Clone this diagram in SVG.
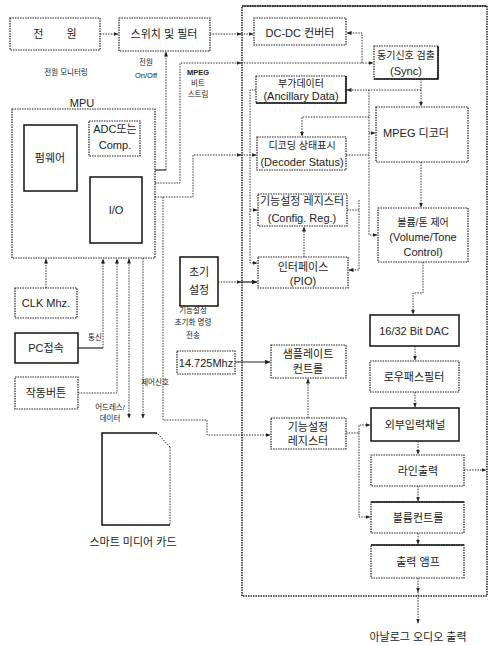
<svg xmlns="http://www.w3.org/2000/svg" width="492" height="645" viewBox="0 0 492 645">
<style>
.b{fill:#fff;stroke:#222;stroke-width:1.2;stroke-dasharray:1.5 1}
.s{fill:#fff;stroke:#111;stroke-width:1.5}
.e{fill:none;stroke:#111;stroke-width:1.5}
.c{fill:none;stroke:#333;stroke-width:1;stroke-dasharray:1.5 1.2}
.cs{fill:none;stroke:#222;stroke-width:1.2}
text{font-family:"Liberation Sans","Noto Sans CJK KR",sans-serif;fill:#222;text-anchor:middle;font-size:11px}
.k{font-size:10px}
.sm{font-size:7.5px}
</style>
<defs>
<marker id="a" viewBox="0 0 10 10" refX="9" refY="5" markerWidth="5" markerHeight="5" orient="auto-start-reverse"><path d="M0,1 L10,5 L0,9 z" fill="#222"/></marker>
</defs>
<g id="mainbox"><rect x="242" y="6" width="245" height="590" fill="none" stroke="#222" stroke-width="1.5" stroke-dasharray="1.5 1"/><line x1="242" y1="6" x2="487" y2="6" stroke="#111" stroke-width="1.2"/></g>
<g id="connectors">
<path class="c" d="M100,34 H118" marker-end="url(#a)"/>
<path class="c" d="M210,34 H241" marker-end="url(#a)"/>
<path class="c" d="M241,34 H253" marker-end="url(#a)"/>
<path class="c" d="M362,63 V33 H347" marker-end="url(#a)"/>
<path class="c" d="M155,183 H180 V63 H241" marker-end="url(#a)"/>
<path class="c" d="M241,63 H373" marker-end="url(#a)"/>
<path class="cs" d="M155,170 H166"/>
<path class="c" d="M166,170 V52" marker-end="url(#a)"/>
<path class="c" d="M155,197 H193 V155 H241" marker-end="url(#a)"/>
<path class="c" d="M241,155 H256" marker-end="url(#a)"/>
<path class="c" d="M256,90 H250 V263 H257" marker-end="url(#a)"/>
<path class="c" d="M250,210 H257" marker-end="url(#a)"/>
<path class="c" d="M421,79 V106" marker-end="url(#a)"/>
<path class="c" d="M421,90 H347" marker-end="url(#a)"/>
<path class="c" d="M369,90 V117 H302 V136" marker-end="url(#a)"/>
<path class="c" d="M369,117 V235 H377" marker-end="url(#a)"/>
<path class="c" d="M369,133 H375" marker-end="url(#a)"/>
<path class="c" d="M346,155 H369"/>
<path class="c" d="M347,210 H359"/>
<path class="c" d="M359,200 V270 H349" marker-end="url(#a)"/>
<path class="c" d="M304,257 V227" marker-end="url(#a)"/>
<path class="c" d="M218,282 H241" marker-end="url(#a)"/>
<path class="cs" d="M241,282 H257" marker-end="url(#a)"/>
<path class="c" d="M421,162 V207" marker-end="url(#a)"/>
<path class="c" d="M423,262 V293 H413 V314" marker-end="url(#a)"/>
<path class="c" d="M415,346 V360" marker-end="url(#a)"/>
<path class="c" d="M415,392 V407" marker-end="url(#a)"/>
<path class="c" d="M418,441 V454" marker-end="url(#a)"/>
<path class="c" d="M418,486 V501" marker-end="url(#a)"/>
<path class="c" d="M418,533 V544" marker-end="url(#a)"/>
<path class="c" d="M418,578 V592" marker-end="url(#a)"/>
<path class="c" d="M418,592 V623" marker-end="url(#a)"/>
<path class="c" d="M464,470 H486" marker-end="url(#a)"/>
<path class="c" d="M346,433 H359 V425 H370" marker-end="url(#a)"/>
<path class="c" d="M359,433 V517 H370" marker-end="url(#a)"/>
<path class="c" d="M308,418 V379" marker-end="url(#a)"/>
<path class="cs" d="M235,362 H270" marker-end="url(#a)"/>
<path class="c" d="M163,197 V420 H207 V435 H270" marker-end="url(#a)"/>
<path class="c" d="M46,288 V259" marker-end="url(#a)"/>
<path class="cs" d="M78,348 H103"/>
<path class="c" d="M103,348 V259" marker-end="url(#a)"/>
<path class="c" d="M78,393 H117 V259" marker-end="url(#a)"/>
<path class="c" d="M129,259 V418" marker-start="url(#a)" marker-end="url(#a)"/>
<path class="c" d="M143,258 V418" marker-end="url(#a)"/>
</g>
<g id="power"><rect class="b" x="10" y="18" width="90" height="32"/><text x="55" y="38" word-spacing="20">전 원</text></g>
<g id="switch"><rect class="b" x="119" y="18" width="91" height="33"/><text x="164" y="38">스위치 및 필터</text></g>
<g id="labels-top"><text class="sm" x="66" y="75">전원 모니터링</text><text class="sm" x="146" y="65">전원</text><text class="sm" x="146" y="78">On/Off</text>
<text class="sm" x="198" y="75" font-weight="bold">MPEG</text><text class="sm" x="198" y="86">비트</text><text class="sm" x="198" y="97">스트림</text></g>
<g id="mpu"><text x="82" y="107" font-size="15px">MPU</text><rect class="b" x="12" y="109" width="143" height="149"/></g>
<g id="firmware"><rect class="s" x="24" y="125" width="53" height="66"/><text x="50" y="162" font-size="12px">펌웨어</text></g>
<g id="adc"><rect class="b" x="89" y="121" width="51" height="35" stroke-width="1.6"/><text x="115" y="133">ADC또는</text><text x="115" y="149">Comp.</text></g>
<g id="io"><rect class="s" x="90" y="177" width="52" height="66"/><text x="116" y="214" font-size="12px">I/O</text></g>
<g id="clk"><rect class="b" x="15" y="288" width="62" height="30"/><text x="46" y="307">CLK Mhz.</text></g>
<g id="pc"><rect class="s" x="15" y="333" width="63" height="30"/><text x="46" y="352">PC접속</text><text class="sm" x="95" y="340">통신</text></g>
<g id="button"><rect class="b" x="15" y="377" width="63" height="32"/><text x="46" y="397">작동버튼</text></g>
<g id="card-labels"><text class="sm" x="110" y="410">어드레스/</text><text class="sm" x="110" y="421">데이터</text><text class="sm" x="155" y="385">제어신호</text></g>
<g id="card"><path d="M170,447 L157,433" class="c"/><path d="M170,447 V525" class="c" stroke-width="1.5"/><path class="e" d="M157,433 H102 V525 H170"/><text x="133" y="546" font-size="11.5px">스마트 미디어 카드</text></g>
<g id="init"><rect class="s" x="180" y="257" width="38" height="49"/><text x="199" y="276">초기</text><text x="199" y="294">설정</text>
<text class="sm" x="193" y="313">기능설정</text><text class="sm" x="193" y="325">초기화 명령</text><text class="sm" x="193" y="338">전송</text></g>
<g id="osc"><rect class="b" x="177" y="351" width="58" height="23" stroke-width="1.6"/><text x="206" y="367" font-size="10.5px">14.725Mhz</text></g>
<g id="dcdc"><rect class="b" x="254" y="18" width="92" height="27"/><text x="300" y="37">DC-DC 컨버터</text></g>
<g id="sync"><rect class="b" x="374" y="46" width="64" height="33"/><path class="e" d="M438,46 V79 H374" stroke-width="1.2"/><text class="k" x="406" y="59" font-size="9.5px">동기신호 검출</text><text x="406" y="75">(Sync)</text></g>
<g id="ancillary"><rect class="b" x="256" y="76" width="90" height="27"/><path class="e" d="M346,76 V103 H256" stroke-width="1.2"/><text class="k" x="301" y="87">부가데이터</text><text x="301" y="100" font-size="10.5px">(Ancillary Data)</text></g>
<g id="decoder"><rect class="b" x="376" y="107" width="92" height="55"/><text x="416" y="137">MPEG 디코더</text></g>
<g id="status"><rect class="b" x="257" y="137" width="89" height="33"/><text class="k" x="302" y="149">디코딩 상태표시</text><text x="302" y="166">(Decoder Status)</text></g>
<g id="config"><rect class="b" x="258" y="194" width="89" height="32"/><text x="302" y="205" font-size="9.5px">기능설정 레지스터</text><text x="302" y="222">(Config. Reg.)</text></g>
<g id="pio"><rect class="b" x="258" y="257" width="90" height="31"/><text x="303" y="271" font-size="10.5px">인터페이스</text><text x="303" y="285">(PIO)</text></g>
<g id="volume"><rect class="b" x="378" y="208" width="90" height="54"/><text class="k" x="423" y="226">볼륨/톤 제어</text><text x="423" y="241">(Volume/Tone</text><text x="423" y="256">Control)</text></g>
<g id="dac"><rect class="s" x="370" y="315" width="89" height="31"/><text x="414" y="335">16/32 Bit DAC</text></g>
<g id="lpf"><rect class="b" x="370" y="361" width="89" height="31"/><text x="414" y="381" font-size="10.5px">로우패스필터</text></g>
<g id="extin"><rect class="s" x="371" y="408" width="88" height="33"/><text x="415" y="429" font-size="10.5px">외부입력채널</text></g>
<g id="lineout"><rect class="b" x="371" y="455" width="93" height="31"/><text x="418" y="475" font-size="10.5px">라인출력</text></g>
<g id="volctl"><rect class="b" x="371" y="502" width="93" height="31"/><line x1="371" y1="502" x2="464" y2="502" class="e" stroke-width="1.2"/><text x="418" y="522">볼륨컨트롤</text></g>
<g id="amp"><rect class="b" x="371" y="545" width="93" height="33"/><line x1="371" y1="545" x2="464" y2="545" class="e" stroke-width="1.2"/><text x="418" y="566">출력 앰프</text></g>
<g id="samplerate"><rect class="b" x="271" y="345" width="75" height="33"/><text x="308" y="358" font-size="10.5px">샘플레이트</text><text x="308" y="373" font-size="10.5px">컨트롤</text></g>
<g id="funcreg"><rect class="b" x="271" y="418" width="75" height="31"/><text x="308" y="431" font-size="10.5px">기능설정</text><text x="308" y="445" font-size="10.5px">레지스터</text></g>
<g id="output"><text x="418" y="641">아날로그 오디오 출력</text></g>
</svg>
